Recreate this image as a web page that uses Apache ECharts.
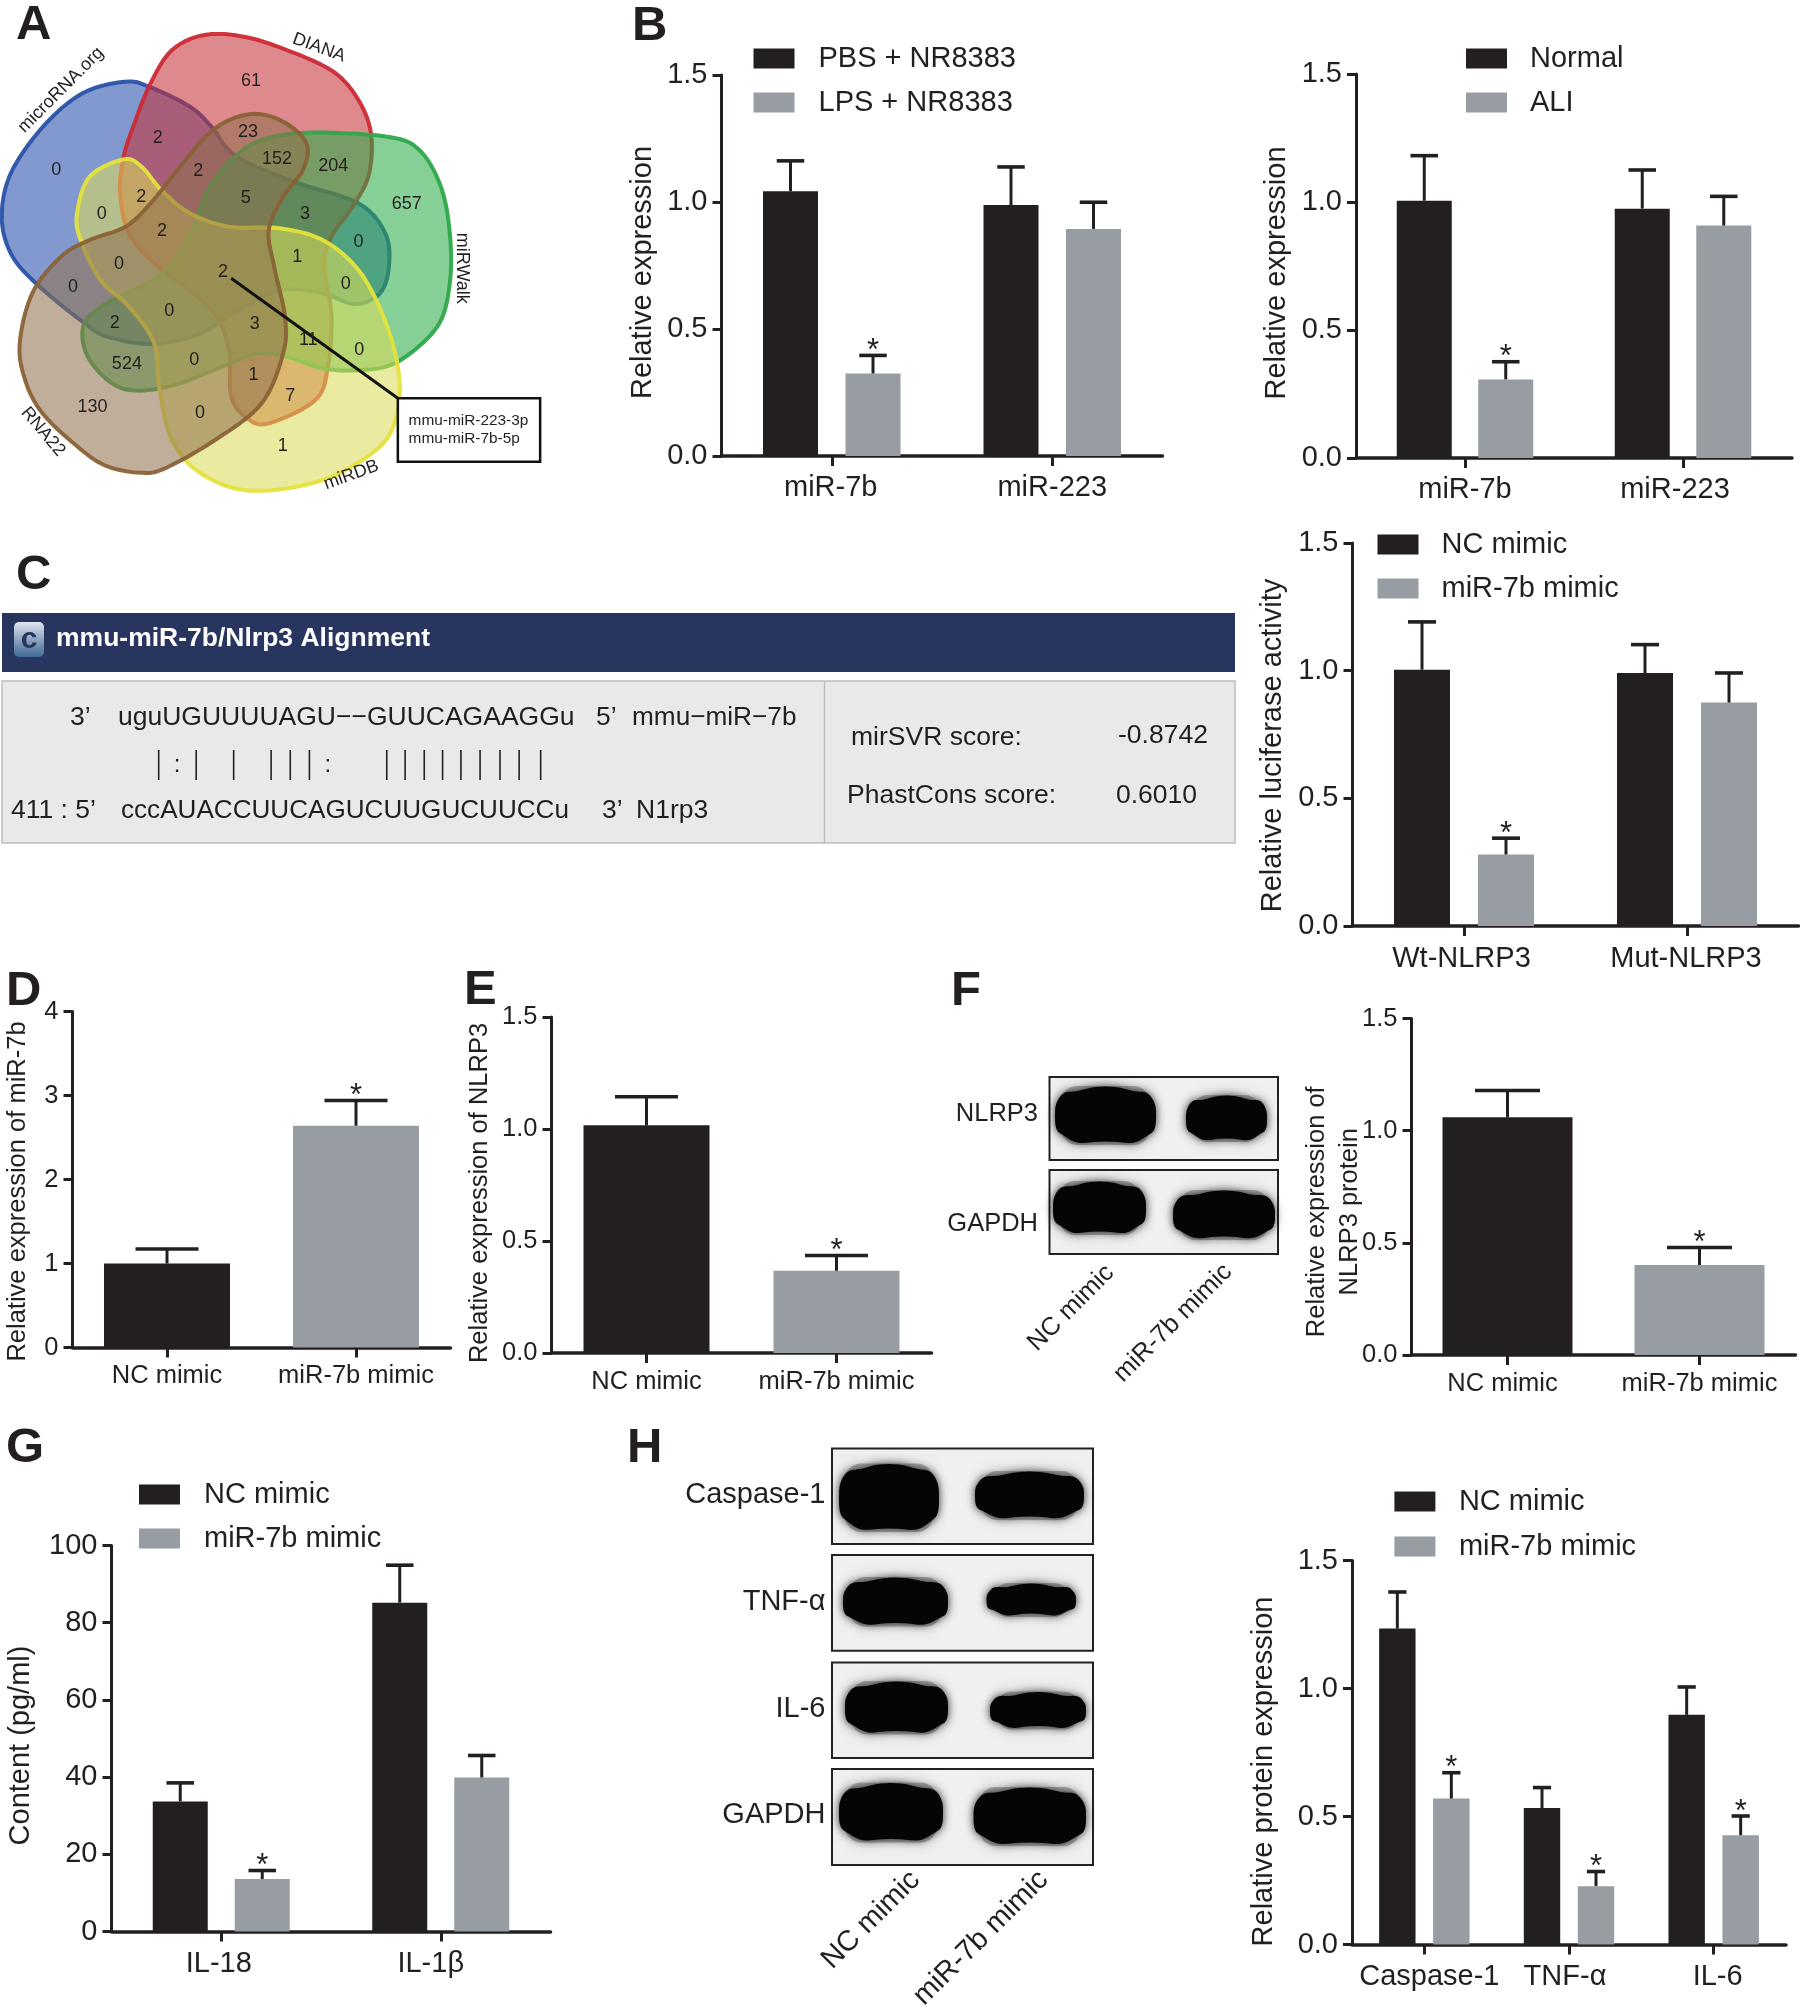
<!DOCTYPE html>
<html><head><meta charset="utf-8">
<style>html,body{margin:0;padding:0;background:#fff}#c{width:1800px;height:2014px}</style>
<script src="https://cdn.jsdelivr.net/npm/echarts@6/dist/echarts.min.js"></script>
</head><body><div id="c"></div>
<script>
// ---------- data ----------
const catB = ['miR-7b', 'miR-223'];
const pbsNR = [1.042, 0.988],  pbsNRUp = [1.162, 1.138];
const lpsNR = [0.325, 0.894],  lpsNRUp = [0.396, 0.999];
const normal = [1.005, 0.974], normalUp = [1.181, 1.125];
const ali = [0.307, 0.908],    aliUp = [0.376, 1.022];
const catC = ['Wt-NLRP3', 'Mut-NLRP3'];
const lucNC = [1.004, 0.991],  lucNCUp = [1.191, 1.102];
const lucMi = [0.280, 0.875],  lucMiUp = [0.344, 0.991];
const catMimic = ['NC mimic', 'miR-7b mimic'];
const dVal = [1.0, 2.64],      dUp = [1.172, 2.94];
const eVal = [1.017, 0.367],   eUp = [1.144, 0.435];
const fVal = [1.06, 0.401],    fUp = [1.179, 0.479];
const catG = ['IL-18', 'IL-1β'];
const gNC = [33.7, 85.2],      gNCUp = [38.5, 94.9];
const gMi = [13.6, 39.9],      gMiUp = [15.8, 45.6];
const catH = ['Caspase-1', 'TNF-α', 'IL-6'];
const hNC = [1.234, 0.533, 0.897], hNCUp = [1.377, 0.613, 1.006];
const hMi = [0.570, 0.228, 0.427], hMiUp = [0.671, 0.285, 0.502];
const vennCounts = [['0',157,510],['61',700,242],['2',440,413],['23',692,397],['2',553,512],['152',773,478],['204',930,498],['657',1135,613],['5',686,593],['2',394,590],['0',284,643],['2',452,693],['3',851,643],['0',1000,725],['1',829,772],['0',332,793],['2',622,815],['0',204,862],['0',965,853],['0',472,932],['2',320,968],['3',711,973],['11',860,1020],['0',1002,1050],['524',354,1093],['0',542,1080],['1',707,1125],['7',810,1188],['130',258,1222],['0',558,1240],['1',789,1338]];

// ---------- style ----------
const INK = '#231f20', GREY = '#989ca3', FONT = 'Liberation Sans';
const grids = [], xAxes = [], yAxes = [], series = [], legends = [], graphic = [];

function panel(o) {
  const i = grids.length, fs = o.fs || 29;
  grids.push({ left: o.l, top: o.t, width: o.w, height: o.h, containLabel: false });
  const nudge = o.nudge || [];
  xAxes.push({ type: 'category', gridIndex: i, boundaryGap: true,
    data: o.cats.map((c, j) => {
      const s = nudge[j] || 0;
      return s ? { value: c, textStyle: { padding: s > 0 ? [0, 0, 0, 2 * s] : [0, -2 * s, 0, 0] } } : c;
    }),
    axisLine: { show: true, lineStyle: { color: INK, width: 3.5 } },
    axisTick: { show: true, alignWithLabel: true, length: 10, lineStyle: { color: INK, width: 3 } },
    axisLabel: { interval: 0, fontSize: fs, color: INK, margin: o.xm || 17, hideOverlap: false },
    splitLine: { show: false } });
  yAxes.push({ type: 'value', gridIndex: i, min: 0, max: o.max, interval: o.step,
    name: o.title, nameLocation: 'middle', nameRotate: 90, nameGap: o.gap, nameMoveOverlap: false,
    nameTextStyle: { fontSize: fs, color: INK, lineHeight: o.lh || fs, padding: [0, o.shift > 0 ? 2 * o.shift : 0, 0, 0] },
    axisLine: { show: true, onZero: false, lineStyle: { color: INK, width: 3 } },
    axisTick: { show: true, length: 9, lineStyle: { color: INK, width: 3 } },
    axisLabel: { fontSize: fs, color: INK, margin: 14, showMinLabel: true, showMaxLabel: true,
      formatter: v => o.step < 1 ? v.toFixed(1) : String(v) },
    splitLine: { show: false } });

  const n = o.groups.length, bw = o.barW, g = o.barGap || 0;
  o.groups.forEach((s, k) => {
    const multi = n === 1;
    series.push({ type: 'bar', name: s.name, xAxisIndex: i, yAxisIndex: i, barWidth: bw, barGap: (g / bw * 100) + '%',
      itemStyle: { color: s.color }, z: 2, silent: true, animation: false,
      data: s.val.map((v, j) => multi ? { value: v, itemStyle: { color: j === 0 ? INK : GREY } } : v) });
    series.push({ type: 'custom', name: s.name + ' error', xAxisIndex: i, yAxisIndex: i, z: 3, silent: true, animation: false,
      encode: { x: 0, y: 1 },
      data: s.val.map((v, j) => [j, s.up[j], v, s.star && s.star[j] ? 1 : 0]),
      renderItem: (params, api) => {
        const off = (k - (n - 1) / 2) * (bw + g);
        const top = api.coord([api.value(0), api.value(1)]);
        const base = api.coord([api.value(0), api.value(2)]);
        const x = top[0] + off, cw = bw / 2;
        const ch = [
          { type: 'line', shape: { x1: x, y1: base[1], x2: x, y2: top[1] }, style: { stroke: INK, lineWidth: 3 } },
          { type: 'line', shape: { x1: x - cw / 2, y1: top[1], x2: x + cw / 2, y2: top[1] }, style: { stroke: INK, lineWidth: 3.6 } }
        ];
        if (api.value(3)) ch.push({ type: 'text', x: x, y: top[1] - 4,
          style: { text: '*', fill: INK, font: '31px "' + FONT + '"', textAlign: 'center', textVerticalAlign: 'middle' } });
        return { type: 'group', children: ch };
      } });
  });
  if (o.legend) legends.push({ show: true, data: o.groups.map(s => s.name), orient: 'vertical', icon: 'rect',
    left: o.legend[0], top: o.legend[1], itemWidth: 41, itemHeight: 20, itemGap: o.legend[2] || 15, selectedMode: false, padding: 0,
    textStyle: { fontSize: fs, color: INK, padding: [0, 0, 0, o.legend[3] || 19] } });
}
const S2 = (a, au, as, b, bu, bs, an, bn) => [
  { name: an, color: INK, val: a, up: au, star: as },
  { name: bn, color: GREY, val: b, up: bu, star: bs }];

panel({ l: 721.5, t: 75, w: 441, h: 381, cats: catB, max: 1.5, step: 0.5, title: 'Relative expression', gap: 64, shift: 7, barW: 55, barGap: 27.5,
  nudge: [-1, 0], legend: [753.5, 44, 15, 19], groups: S2(pbsNR, pbsNRUp, null, lpsNR, lpsNRUp, [1, 0], 'PBS + NR8383', 'LPS + NR8383') });
panel({ l: 1356, t: 74, w: 436, h: 384, cats: catB, max: 1.5, step: 0.5, title: 'Relative expression', gap: 65, shift: 7, barW: 55, barGap: 26.5,
  nudge: [0, -8], legend: [1466, 44, 15, 18], groups: S2(normal, normalUp, null, ali, aliUp, [1, 0], 'Normal', 'ALI') });
panel({ l: 1352.5, t: 543, w: 446, h: 383, xm: 18, cats: catC, max: 1.5, step: 0.5, title: 'Relative luciferase activity', gap: 65, shift: 11, barW: 56, barGap: 28,
  nudge: [-2.5, -1], legend: [1377.5, 530, 15, 18], groups: S2(lucNC, lucNCUp, null, lucMi, lucMiUp, [1, 0], 'NC mimic', 'miR-7b mimic') });
panel({ l: 72.5, t: 1011.5, w: 378, h: 336, fs: 25.5, xm: 15.5, cats: catMimic, max: 4, step: 1, title: 'Relative expression of miR-7b', gap: 42, shift: 12, barW: 126,
  groups: [{ name: 'miR-7b expression', color: INK, val: dVal, up: dUp, star: [0, 1] }] });
panel({ l: 551.5, t: 1017, w: 380, h: 336, fs: 25.5, xm: 15.5, cats: catMimic, max: 1.5, step: 0.5, title: 'Relative expression of NLRP3', gap: 59, shift: 8, barW: 126,
  groups: [{ name: 'NLRP3 expression', color: INK, val: eVal, up: eUp, star: [0, 1] }] });
panel({ l: 1411.5, t: 1018.5, w: 384, h: 336.5, fs: 25.5, xm: 15.5, cats: catMimic, max: 1.5, step: 0.5, title: 'Relative expression of\nNLRP3 protein', gap: 45, shift: 25, lh: 33, barW: 130,
  nudge: [-5, 0], groups: [{ name: 'NLRP3 protein', color: INK, val: fVal, up: fUp, star: [0, 1] }] });
panel({ l: 111.5, t: 1545.5, w: 439, h: 386, xm: 18, cats: catG, max: 100, step: 20, title: 'Content (pg/ml)', gap: 76, shift: 7, barW: 55, barGap: 27,
  nudge: [-2.5, -10], legend: [139, 1480, 15, 19], groups: S2(gNC, gNCUp, null, gMi, gMiUp, [1, 0], 'NC mimic', 'miR-7b mimic') });
panel({ l: 1352, t: 1560.5, w: 434, h: 384, xm: 18, cats: catH, max: 1.5, step: 0.5, title: 'Relative protein expression', gap: 74, shift: 19, barW: 36.4, barGap: 17.6,
  nudge: [5, -4, 4], legend: [1394.4, 1487, 16, 18.5], groups: S2(hNC, hNCUp, null, hMi, hMiUp, [1, 1, 1], 'NC mimic', 'miR-7b mimic') });

// ---------- helpers for the non-chart parts ----------
const txt = (t, x, y, fs, o = {}) => graphic.push({ type: 'text', x, y, rotation: (o.rot || 0) * Math.PI / 180, z: o.z || 20, silent: true,
  style: { text: t, fill: o.fill || INK, font: (o.bold ? 'bold ' : '') + fs + 'px "' + FONT + '"', textAlign: o.align || 'left', textVerticalAlign: 'middle' } });
const rect = (x0, y0, x1, y1, fill, stroke, lw, z, r) => graphic.push({ type: 'rect', z: z || 10, silent: true,
  shape: { x: x0, y: y0, width: x1 - x0, height: y1 - y0, r: r || 0 }, style: { fill, stroke: stroke || null, lineWidth: lw || 0 } });
const line = (x1, y1, x2, y2, c, lw, z) => graphic.push({ type: 'line', z: z || 12, silent: true, shape: { x1, y1, x2, y2 }, style: { stroke: c, lineWidth: lw } });

// panel letters
[['A',16,25],['B',632,26],['C',16,575],['D',6,991],['E',464,990],['F',951,991],['G',6,1448],['H',627,1448]].forEach(a => txt(a[0], a[1], a[2], 49, { bold: true }));

// ---------- Venn (A) ----------
const VX = 1 / 2.79, VY = 1 / 3;
function closed(pts) {
  const P = pts.map(p => [p[0] * VX, p[1] * VY]), n = P.length, out = [];
  for (let i = 0; i < n; i++) {
    const a = P[(i - 1 + n) % n], b = P[i], c = P[(i + 1) % n], e = P[(i + 2) % n];
    for (let t = 0; t < 1; t += 0.1) {
      const t2 = t * t, t3 = t2 * t;
      out.push([0, 1].map(k => 0.5 * (2 * b[k] + (c[k] - a[k]) * t + (2 * a[k] - 5 * b[k] + 4 * c[k] - e[k]) * t2 + (3 * b[k] - a[k] - 3 * c[k] + e[k]) * t3)));
    }
  }
  return out;
}
const vennShapes = [
  { c: '35,75,170', s: '#2a52a8', p: [[350,245],[420,262],[530,320],[590,380],[660,470],[820,545],[1000,610],[1075,700],[1085,800],[1060,880],[990,912],[900,880],[790,870],[680,920],[560,1000],[430,1032],[300,1010],[230,965],[100,850],[30,760],[5,650],[30,520],[120,380],[230,280]] },
  { c: '197,47,57', s: '#cc2a35', p: [[345,470],[375,370],[420,250],[480,150],[570,105],[680,110],[800,150],[930,215],[1000,300],[1035,400],[1030,520],[990,610],[925,710],[905,800],[925,950],[915,1100],[880,1200],[750,1270],[690,1255],[645,1190],[640,1060],[610,960],[540,880],[430,790],[360,700],[335,580]] },
  { c: '43,170,71', s: '#2fa84b', p: [[650,475],[730,420],[860,398],[1080,410],[1170,450],[1230,560],[1255,700],[1255,850],[1220,980],[1110,1085],[1010,1110],[900,1105],[800,1070],[720,1060],[620,1100],[470,1160],[340,1165],[250,1080],[232,980],[290,915],[410,850],[480,790],[540,680],[580,570]] },
  { c: '218,220,88', s: '#e4e33c', p: [[345,478],[395,500],[450,570],[530,640],[640,680],[780,685],[900,720],[1000,810],[1070,950],[1110,1100],[1110,1230],[1060,1340],[900,1440],[700,1472],[560,1420],[480,1320],[445,1170],[430,1030],[360,920],[280,840],[225,720],[215,640],[250,530]] },
  { c: '145,112,77', s: '#8a6236', p: [[700,342],[790,365],[855,430],[845,510],[790,590],[750,690],[765,800],[795,950],[790,1060],[730,1210],[600,1320],[460,1405],[390,1418],[290,1395],[200,1325],[115,1235],[70,1140],[55,1030],[90,880],[170,770],[250,720],[350,680],[420,610],[510,490],[600,385]] }
];
vennShapes.forEach((v, i) => graphic.push({ type: 'polygon', z: 5 + i * 0.01, silent: true, shape: { points: closed(v.p) },
  style: { fill: 'rgba(' + v.c + ',0.6)', stroke: v.s, lineWidth: 4, lineJoin: 'round', opacity: 0.95 } }));
vennCounts.forEach(c => txt(c[0], c[1] * VX, c[2] * VY, 18, { align: 'center' }));
[['DIANA',890,143,-20],['microRNA.org',170,270,45],['miRWalk',1290,805,-90],['RNA22',120,1295,-50],['miRDB',980,1425,20]].forEach(a => txt(a[0], a[1] * VX, a[2] * VY, 18, { align: 'center', rot: a[3] }));
line(645 * VX, 835 * VY, 1110 * VX, 1195 * VY, '#111', 3, 12);
rect(1110 * VX, 1195 * VY, 1507 * VX, 1385 * VY, '#fff', '#111', 2.5, 13);
txt('mmu-miR-223-3p', 1140 * VX, 1263 * VY, 15.4);
txt('mmu-miR-7b-5p', 1140 * VX, 1317 * VY, 15.4);

// ---------- Alignment (C) ----------
const CX = 1 / 1.254;
rect(2, 613, 1235, 672, '#27355f');
graphic.push({ type: 'rect', z: 11, silent: true, shape: { x: 14, y: 622, width: 30, height: 35, r: 5 },
  style: { fill: { type: 'linear', x: 0, y: 0, x2: 0, y2: 1, colorStops: [{ offset: 0, color: '#dfe6ef' }, { offset: 0.5, color: '#8ea4bf' }, { offset: 1, color: '#3f6a96' }] } } });
txt('c', 29, 640, 30, { bold: true, align: 'center', fill: '#27355f' });
txt('mmu-miR-7b/Nlrp3 Alignment', 56, 639, 26.5, { bold: true, fill: '#fff' });
rect(2, 681, 1235, 843, '#e9e9e9', '#bdbdbd', 1.5);
line(824.5, 681, 824.5, 843, '#bdbdbd', 1.5);
txt('3’', 70, 718, 26.5); txt('uguUGUUUUAGU−−GUUCAGAAGGu', 118, 718, 26.5); txt('5’', 596, 718, 26.5); txt('mmu−miR−7b', 632, 718, 26.2);
txt('411 : 5’', 11, 811, 26.5); txt('cccAUACCUUCAGUCUUGUCUUCCu', 121, 811, 26.1); txt('3’', 602, 811, 26.5); txt('N1rp3', 636, 811, 26.5);
txt('mirSVR score:', 851, 738, 26.5); txt('-0.8742', 1118, 736, 26.5);
txt('PhastCons score:', 847, 796, 26.5); txt('0.6010', 1116, 796, 26.5);
[199,246,293,340,364,388,485,508,532,555,578,602,627,651,678].forEach(x => line(x * CX, 750, x * CX, 780, '#222', 1.6));
[222,411].forEach(x => txt(':', x * CX, 765, 24, { align: 'center' }));

// ---------- Blots (F, H) ----------
function bandShape(b) {
  const cx = (b[0] + b[1]) / 2, cy = (b[2] + b[3]) / 2, a = (b[1] - b[0]) / 2, h = (b[3] - b[2]) / 2, pts = [];
  for (let i = 0; i < 72; i++) {
    const th = i / 72 * 2 * Math.PI, c = Math.cos(th), s = Math.sin(th);
    const wave = 1.4 * Math.sin(th * 7);
    pts.push([cx + a * Math.sign(c) * Math.pow(Math.abs(c), 0.7), cy + (h + wave) * Math.sign(s) * Math.pow(Math.abs(s), 0.6)]);
  }
  return pts;
}
function blot(x0, y0, x1, y1, bands) {
  rect(x0, y0, x1, y1, '#f0f0f0', '#222', 2, 10);
  bands.forEach(b => {
    graphic.push({ type: 'rect', z: 10.5, silent: true, shape: { x: b[0] + 6, y: b[2] - 2, width: b[1] - b[0] - 12, height: b[3] - b[2] + 4, r: 16 },
      style: { fill: 'rgba(70,70,70,0.35)', shadowColor: 'rgba(60,60,60,0.55)', shadowBlur: 16 } });
    graphic.push({ type: 'polygon', z: 11, silent: true, shape: { points: bandShape(b) },
      style: { fill: '#050505', shadowColor: 'rgba(0,0,0,0.8)', shadowBlur: 9 } });
  });
}
blot(1049.5, 1077, 1278, 1160, [[1055,1156,1088,1143],[1186,1267,1097,1140]]);
blot(1049.5, 1170, 1278, 1254, [[1053,1146,1183,1233],[1173,1275,1192,1238]]);
txt('NLRP3', 1038, 1114, 25.5, { align: 'right' });
txt('GAPDH', 1038, 1224, 25.5, { align: 'right' });
txt('NC mimic', 1071, 1308, 25.5, { align: 'center', rot: 45 });
txt('miR-7b mimic', 1173, 1323, 25.5, { align: 'center', rot: 45 });
blot(832, 1448.5, 1093, 1544, [[839,939,1465.5,1530],[975,1084,1473,1518]]);
blot(832, 1555, 1093, 1650.7, [[843,948,1579,1624.5],[986.5,1076,1585,1615]]);
blot(832, 1662.4, 1093, 1758, [[845,948,1683,1732.5],[990,1086,1693.5,1727.5]]);
blot(832, 1769, 1093, 1865, [[839,943,1784.5,1840.5],[973.5,1086,1789,1844]]);
[['Caspase-1',1495],['TNF-α',1601.5],['IL-6',1708.5],['GAPDH',1814.5]].forEach(a => txt(a[0], 825.5, a[1], 29, { align: 'right' }));
txt('NC mimic', 871, 1920, 29, { align: 'center', rot: 45 });
txt('miR-7b mimic', 981, 1938, 29, { align: 'center', rot: 45 });

const chart = echarts.init(document.getElementById('c'), null, { renderer: 'canvas', width: 1800, height: 2014 });
chart.setOption({ animation: false, backgroundColor: '#fff', textStyle: { fontFamily: FONT, color: INK },
  grid: grids, xAxis: xAxes, yAxis: yAxes, series, legend: legends, graphic: { elements: graphic }, tooltip: { show: false } });
</script></body></html>
